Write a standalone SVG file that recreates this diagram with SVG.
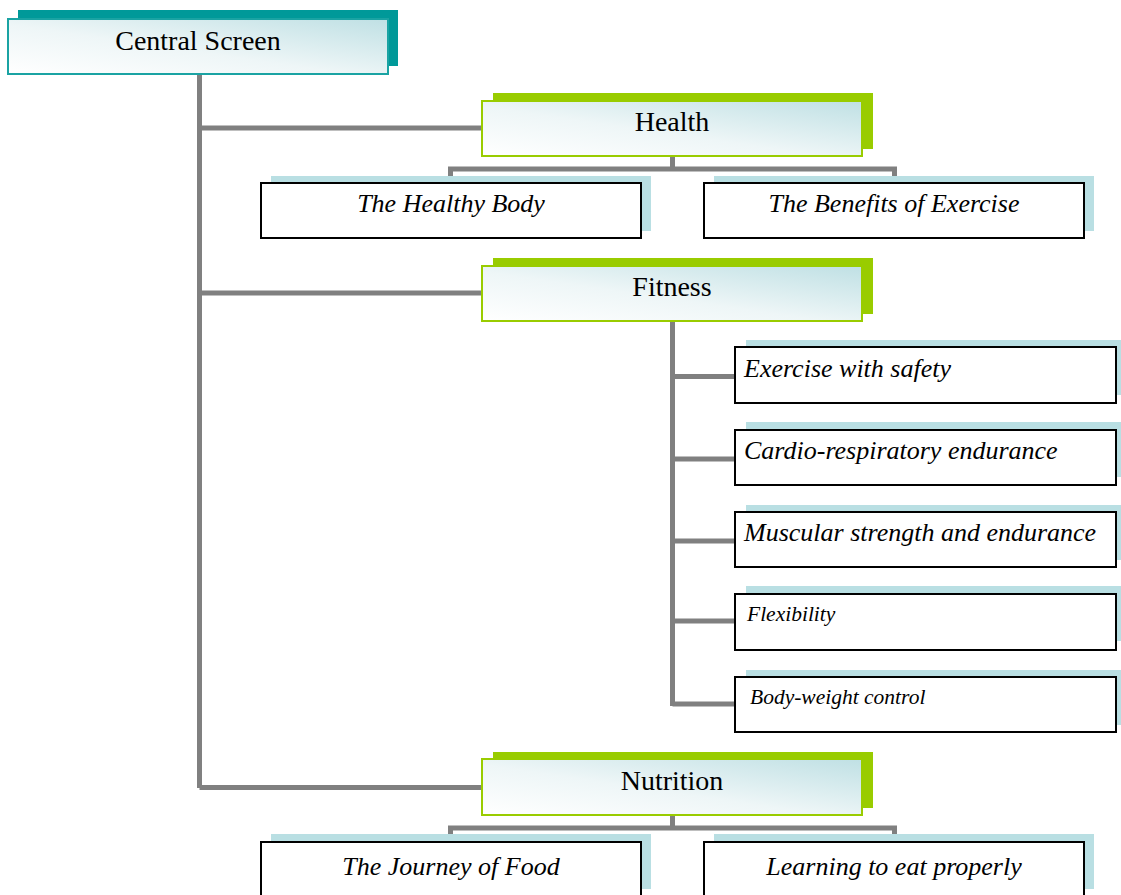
<svg xmlns="http://www.w3.org/2000/svg" width="1121" height="895" viewBox="0 0 1121 895">
<defs>
<linearGradient id="pg" x1="0" y1="1" x2="1" y2="0">
<stop offset="0" stop-color="#ffffff"/>
<stop offset="0.45" stop-color="#eef6f7"/>
<stop offset="1" stop-color="#bfe0e4"/>
</linearGradient>
<style>
.conn{fill:none;stroke:#808080;stroke-width:5;stroke-linejoin:miter}
.tshadow{fill:#009999}
.gshadow{fill:#99cc00}
.bshadow{fill:#b9dfe3}
.central{fill:url(#pg);stroke:#1aa3a3;stroke-width:2}
.parent{fill:url(#pg);stroke:#99cc00;stroke-width:2}
.child{fill:#ffffff;stroke:#000000;stroke-width:2}
.pt{font-family:"Liberation Serif",serif;font-size:28px;fill:#000;text-anchor:middle}
.ct{font-family:"Liberation Serif",serif;font-size:26px;font-style:italic;fill:#000}
.mid{text-anchor:middle}
.sm{font-size:21.5px}
</style>
</defs>
<rect width="1121" height="895" fill="#ffffff"/>
<g id="connectors">
<path class="conn" d="M199.5,74 V788 M199.5,128 H482 M199.5,293 H482 M199.5,787.5 H482"/>
<path class="conn" d="M672.5,156 V169 M450.5,180 V169 H894.5 V180"/>
<path class="conn" d="M672.5,321 V706 M672.5,376.5 H735 M672.5,459 H735 M672.5,541 H735 M672.5,621 H735 M672.5,704 H735"/>
<path class="conn" d="M672.5,815 V828 M450.5,838 V828 H894.5 V838"/>
</g>
<g id="central-screen">
<rect class="tshadow" x="18" y="10" width="380" height="56"/>
<rect class="central" x="8" y="19" width="380" height="55"/>
<text class="pt" x="198" y="50">Central Screen</text>
</g>
<g id="health">
<rect class="gshadow" x="493" y="93" width="380" height="56"/>
<rect class="parent" x="482" y="101" width="380" height="55"/>
<text class="pt" x="672" y="131">Health</text>
</g>
<g id="healthy-body">
<rect class="bshadow" x="271" y="176" width="380" height="55"/>
<rect class="child" x="261" y="183" width="380" height="55"/>
<text class="ct mid" x="451" y="212">The Healthy Body</text>
</g>
<g id="benefits-exercise">
<rect class="bshadow" x="714" y="176" width="380" height="55"/>
<rect class="child" x="704" y="183" width="380" height="55"/>
<text class="ct mid" x="894" y="212">The Benefits of Exercise</text>
</g>
<g id="fitness">
<rect class="gshadow" x="493" y="258" width="380" height="56"/>
<rect class="parent" x="482" y="266" width="380" height="55"/>
<text class="pt" x="672" y="296">Fitness</text>
</g>
<g id="exercise-safety">
<rect class="bshadow" x="746" y="340" width="380" height="55"/>
<rect class="child" x="735" y="347" width="381" height="56"/>
<text class="ct" x="744" y="377">Exercise with safety</text>
</g>
<g id="cardio">
<rect class="bshadow" x="746" y="422" width="380" height="55"/>
<rect class="child" x="735" y="430" width="381" height="55"/>
<text class="ct" x="744" y="459">Cardio-respiratory endurance</text>
</g>
<g id="muscular">
<rect class="bshadow" x="746" y="505" width="380" height="55"/>
<rect class="child" x="735" y="512" width="381" height="55"/>
<text class="ct" x="744" y="541">Muscular strength and endurance</text>
</g>
<g id="flexibility">
<rect class="bshadow" x="746" y="586" width="380" height="55"/>
<rect class="child" x="735" y="594" width="381" height="56"/>
<text class="ct sm" x="747" y="621">Flexibility</text>
</g>
<g id="body-weight">
<rect class="bshadow" x="746" y="670" width="380" height="55"/>
<rect class="child" x="735" y="677" width="381" height="55"/>
<text class="ct sm" x="750" y="704">Body-weight control</text>
</g>
<g id="nutrition">
<rect class="gshadow" x="493" y="752" width="380" height="56"/>
<rect class="parent" x="482" y="759" width="380" height="56"/>
<text class="pt" x="672" y="790">Nutrition</text>
</g>
<g id="journey-food">
<rect class="bshadow" x="271" y="834" width="380" height="55"/>
<rect class="child" x="261" y="842" width="380" height="55"/>
<text class="ct mid" x="451" y="875">The Journey of Food</text>
</g>
<g id="learning-eat">
<rect class="bshadow" x="714" y="834" width="380" height="55"/>
<rect class="child" x="704" y="842" width="380" height="55"/>
<text class="ct mid" x="894" y="875">Learning to eat properly</text>
</g>
</svg>
